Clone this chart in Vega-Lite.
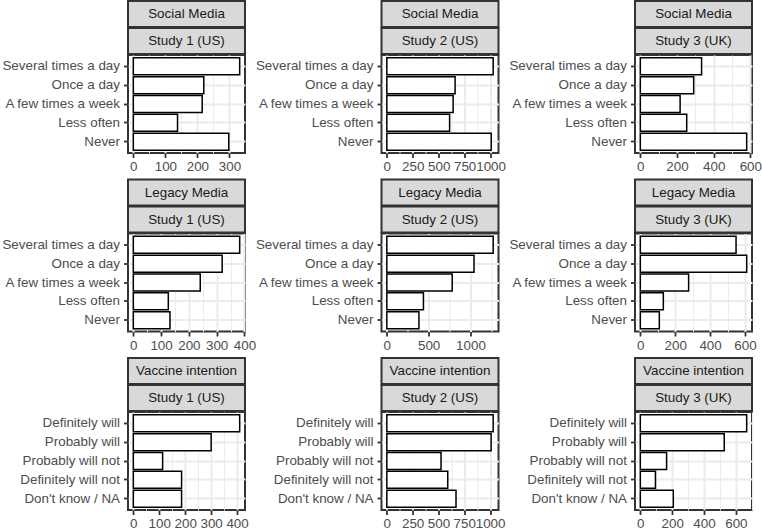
{
"$schema":"https://vega.github.io/schema/vega-lite/v6.json",
"background":"white",
"padding":{"left":0,"top":0,"right":0,"bottom":0},
"columns":3,
"align":"all",
"spacing":{"row":4.5,"column":-3.5},
"datasets":{"counts":[
{"category":"Social Media","study":"Study 1 (US)","response":"Several times a day","n":332},
{"category":"Social Media","study":"Study 1 (US)","response":"Once a day","n":220},
{"category":"Social Media","study":"Study 1 (US)","response":"A few times a week","n":215},
{"category":"Social Media","study":"Study 1 (US)","response":"Less often","n":138},
{"category":"Social Media","study":"Study 1 (US)","response":"Never","n":298},
{"category":"Social Media","study":"Study 2 (US)","response":"Several times a day","n":1025},
{"category":"Social Media","study":"Study 2 (US)","response":"Once a day","n":658},
{"category":"Social Media","study":"Study 2 (US)","response":"A few times a week","n":639},
{"category":"Social Media","study":"Study 2 (US)","response":"Less often","n":605},
{"category":"Social Media","study":"Study 2 (US)","response":"Never","n":1006},
{"category":"Social Media","study":"Study 3 (UK)","response":"Several times a day","n":334},
{"category":"Social Media","study":"Study 3 (UK)","response":"Once a day","n":291},
{"category":"Social Media","study":"Study 3 (UK)","response":"A few times a week","n":217},
{"category":"Social Media","study":"Study 3 (UK)","response":"Less often","n":253},
{"category":"Social Media","study":"Study 3 (UK)","response":"Never","n":580},
{"category":"Legacy Media","study":"Study 1 (US)","response":"Several times a day","n":383},
{"category":"Legacy Media","study":"Study 1 (US)","response":"Once a day","n":320},
{"category":"Legacy Media","study":"Study 1 (US)","response":"A few times a week","n":241},
{"category":"Legacy Media","study":"Study 1 (US)","response":"Less often","n":126},
{"category":"Legacy Media","study":"Study 1 (US)","response":"Never","n":132},
{"category":"Legacy Media","study":"Study 2 (US)","response":"Several times a day","n":1272},
{"category":"Legacy Media","study":"Study 2 (US)","response":"Once a day","n":1043},
{"category":"Legacy Media","study":"Study 2 (US)","response":"A few times a week","n":782},
{"category":"Legacy Media","study":"Study 2 (US)","response":"Less often","n":438},
{"category":"Legacy Media","study":"Study 2 (US)","response":"Never","n":384},
{"category":"Legacy Media","study":"Study 3 (UK)","response":"Several times a day","n":549},
{"category":"Legacy Media","study":"Study 3 (UK)","response":"Once a day","n":610},
{"category":"Legacy Media","study":"Study 3 (UK)","response":"A few times a week","n":277},
{"category":"Legacy Media","study":"Study 3 (UK)","response":"Less often","n":132},
{"category":"Legacy Media","study":"Study 3 (UK)","response":"Never","n":109},
{"category":"Vaccine intention","study":"Study 1 (US)","response":"Definitely will","n":410},
{"category":"Vaccine intention","study":"Study 1 (US)","response":"Probably will","n":300},
{"category":"Vaccine intention","study":"Study 1 (US)","response":"Probably will not","n":113},
{"category":"Vaccine intention","study":"Study 1 (US)","response":"Definitely will not","n":186},
{"category":"Vaccine intention","study":"Study 1 (US)","response":"Don't know / NA","n":186},
{"category":"Vaccine intention","study":"Study 2 (US)","response":"Definitely will","n":1030},
{"category":"Vaccine intention","study":"Study 2 (US)","response":"Probably will","n":1010},
{"category":"Vaccine intention","study":"Study 2 (US)","response":"Probably will not","n":525},
{"category":"Vaccine intention","study":"Study 2 (US)","response":"Definitely will not","n":590},
{"category":"Vaccine intention","study":"Study 2 (US)","response":"Don't know / NA","n":670},
{"category":"Vaccine intention","study":"Study 3 (UK)","response":"Definitely will","n":668},
{"category":"Vaccine intention","study":"Study 3 (UK)","response":"Probably will","n":527},
{"category":"Vaccine intention","study":"Study 3 (UK)","response":"Probably will not","n":165},
{"category":"Vaccine intention","study":"Study 3 (UK)","response":"Definitely will not","n":95},
{"category":"Vaccine intention","study":"Study 3 (UK)","response":"Don't know / NA","n":207}
]},
"concat":[
{"spacing":-2,"vconcat":[
 {"width":117,"height":26,"view":{"fill":"#d9d9d9","stroke":"#333333","strokeWidth":2},"data":{"values":[{"label":"Social Media"}]},"mark":{"type":"text","fontSize":13.4,"color":"#1a1a1a"},"encoding":{"text":{"field":"label"}}},
 {"width":117,"height":26,"view":{"fill":"#d9d9d9","stroke":"#333333","strokeWidth":2},"data":{"values":[{"label":"Study 1 (US)"}]},"mark":{"type":"text","fontSize":13.4,"color":"#1a1a1a"},"encoding":{"text":{"field":"label"}}},
 {"width":117,"height":98,"view":{"fill":"white","stroke":"#333333","strokeWidth":2},"data":{"name":"counts"},
  "transform":[{"filter":"datum.category==='Social Media' && datum.study==='Study 1 (US)'"}],
  "resolve":{"axis":{"x":"independent"}},
  "layer":[
   {"mark":{"type":"bar","opacity":0},"encoding":{
     "y":{"field":"response","type":"nominal","title":null,"sort":["Several times a day","Once a day","A few times a week","Less often","Never"],"scale":{"paddingInner":0.1,"paddingOuter":0.15},"axis":{"grid":true}},
     "x":{"field":"n","type":"quantitative","title":null,"scale":{"domain":[-16.6,348.6],"nice":false,"zero":false},"axis":{"orient":"bottom","values":[50,150,250],"labels":false,"ticks":false,"grid":true,"gridWidth":1}}}},
   {"mark":{"type":"bar","fill":"white","stroke":"black","strokeWidth":1.5},"encoding":{
     "y":{"field":"response","type":"nominal","title":null,"sort":["Several times a day","Once a day","A few times a week","Less often","Never"],"scale":{"paddingInner":0.1,"paddingOuter":0.15},"axis":{"grid":true}},
     "x":{"field":"n","type":"quantitative","title":null,"scale":{"domain":[-16.6,348.6],"nice":false,"zero":false},"axis":{"orient":"bottom","values":[0,100,200,300],"grid":true}},
     "x2":{"datum":0}}}
  ]}
]},
{"spacing":-2,"vconcat":[
 {"width":117,"height":26,"view":{"fill":"#d9d9d9","stroke":"#333333","strokeWidth":2},"data":{"values":[{"label":"Social Media"}]},"mark":{"type":"text","fontSize":13.4,"color":"#1a1a1a"},"encoding":{"text":{"field":"label"}}},
 {"width":117,"height":26,"view":{"fill":"#d9d9d9","stroke":"#333333","strokeWidth":2},"data":{"values":[{"label":"Study 2 (US)"}]},"mark":{"type":"text","fontSize":13.4,"color":"#1a1a1a"},"encoding":{"text":{"field":"label"}}},
 {"width":117,"height":98,"view":{"fill":"white","stroke":"#333333","strokeWidth":2},"data":{"name":"counts"},
  "transform":[{"filter":"datum.category==='Social Media' && datum.study==='Study 2 (US)'"}],
  "resolve":{"axis":{"x":"independent"}},
  "layer":[
   {"mark":{"type":"bar","opacity":0},"encoding":{
     "y":{"field":"response","type":"nominal","title":null,"sort":["Several times a day","Once a day","A few times a week","Less often","Never"],"scale":{"paddingInner":0.1,"paddingOuter":0.15},"axis":{"grid":true}},
     "x":{"field":"n","type":"quantitative","title":null,"scale":{"domain":[-51.25,1076.25],"nice":false,"zero":false},"axis":{"orient":"bottom","values":[125,375,625,875],"labels":false,"ticks":false,"grid":true,"gridWidth":1}}}},
   {"mark":{"type":"bar","fill":"white","stroke":"black","strokeWidth":1.5},"encoding":{
     "y":{"field":"response","type":"nominal","title":null,"sort":["Several times a day","Once a day","A few times a week","Less often","Never"],"scale":{"paddingInner":0.1,"paddingOuter":0.15},"axis":{"grid":true}},
     "x":{"field":"n","type":"quantitative","title":null,"scale":{"domain":[-51.25,1076.25],"nice":false,"zero":false},"axis":{"orient":"bottom","values":[0,250,500,750,1000],"grid":true}},
     "x2":{"datum":0}}}
  ]}
]},
{"spacing":-2,"vconcat":[
 {"width":117,"height":26,"view":{"fill":"#d9d9d9","stroke":"#333333","strokeWidth":2},"data":{"values":[{"label":"Social Media"}]},"mark":{"type":"text","fontSize":13.4,"color":"#1a1a1a"},"encoding":{"text":{"field":"label"}}},
 {"width":117,"height":26,"view":{"fill":"#d9d9d9","stroke":"#333333","strokeWidth":2},"data":{"values":[{"label":"Study 3 (UK)"}]},"mark":{"type":"text","fontSize":13.4,"color":"#1a1a1a"},"encoding":{"text":{"field":"label"}}},
 {"width":117,"height":98,"view":{"fill":"white","stroke":"#333333","strokeWidth":2},"data":{"name":"counts"},
  "transform":[{"filter":"datum.category==='Social Media' && datum.study==='Study 3 (UK)'"}],
  "resolve":{"axis":{"x":"independent"}},
  "layer":[
   {"mark":{"type":"bar","opacity":0},"encoding":{
     "y":{"field":"response","type":"nominal","title":null,"sort":["Several times a day","Once a day","A few times a week","Less often","Never"],"scale":{"paddingInner":0.1,"paddingOuter":0.15},"axis":{"grid":true}},
     "x":{"field":"n","type":"quantitative","title":null,"scale":{"domain":[-29,609],"nice":false,"zero":false},"axis":{"orient":"bottom","values":[100,300,500],"labels":false,"ticks":false,"grid":true,"gridWidth":1}}}},
   {"mark":{"type":"bar","fill":"white","stroke":"black","strokeWidth":1.5},"encoding":{
     "y":{"field":"response","type":"nominal","title":null,"sort":["Several times a day","Once a day","A few times a week","Less often","Never"],"scale":{"paddingInner":0.1,"paddingOuter":0.15},"axis":{"grid":true}},
     "x":{"field":"n","type":"quantitative","title":null,"scale":{"domain":[-29,609],"nice":false,"zero":false},"axis":{"orient":"bottom","values":[0,200,400,600],"grid":true}},
     "x2":{"datum":0}}}
  ]}
]},
{"spacing":-2,"vconcat":[
 {"width":117,"height":26,"view":{"fill":"#d9d9d9","stroke":"#333333","strokeWidth":2},"data":{"values":[{"label":"Legacy Media"}]},"mark":{"type":"text","fontSize":13.4,"color":"#1a1a1a"},"encoding":{"text":{"field":"label"}}},
 {"width":117,"height":26,"view":{"fill":"#d9d9d9","stroke":"#333333","strokeWidth":2},"data":{"values":[{"label":"Study 1 (US)"}]},"mark":{"type":"text","fontSize":13.4,"color":"#1a1a1a"},"encoding":{"text":{"field":"label"}}},
 {"width":117,"height":98,"view":{"fill":"white","stroke":"#333333","strokeWidth":2},"data":{"name":"counts"},
  "transform":[{"filter":"datum.category==='Legacy Media' && datum.study==='Study 1 (US)'"}],
  "resolve":{"axis":{"x":"independent"}},
  "layer":[
   {"mark":{"type":"bar","opacity":0},"encoding":{
     "y":{"field":"response","type":"nominal","title":null,"sort":["Several times a day","Once a day","A few times a week","Less often","Never"],"scale":{"paddingInner":0.1,"paddingOuter":0.15},"axis":{"grid":true}},
     "x":{"field":"n","type":"quantitative","title":null,"scale":{"domain":[-19.15,402.15],"nice":false,"zero":false},"axis":{"orient":"bottom","values":[50,150,250,350],"labels":false,"ticks":false,"grid":true,"gridWidth":1}}}},
   {"mark":{"type":"bar","fill":"white","stroke":"black","strokeWidth":1.5},"encoding":{
     "y":{"field":"response","type":"nominal","title":null,"sort":["Several times a day","Once a day","A few times a week","Less often","Never"],"scale":{"paddingInner":0.1,"paddingOuter":0.15},"axis":{"grid":true}},
     "x":{"field":"n","type":"quantitative","title":null,"scale":{"domain":[-19.15,402.15],"nice":false,"zero":false},"axis":{"orient":"bottom","values":[0,100,200,300,400],"grid":true}},
     "x2":{"datum":0}}}
  ]}
]},
{"spacing":-2,"vconcat":[
 {"width":117,"height":26,"view":{"fill":"#d9d9d9","stroke":"#333333","strokeWidth":2},"data":{"values":[{"label":"Legacy Media"}]},"mark":{"type":"text","fontSize":13.4,"color":"#1a1a1a"},"encoding":{"text":{"field":"label"}}},
 {"width":117,"height":26,"view":{"fill":"#d9d9d9","stroke":"#333333","strokeWidth":2},"data":{"values":[{"label":"Study 2 (US)"}]},"mark":{"type":"text","fontSize":13.4,"color":"#1a1a1a"},"encoding":{"text":{"field":"label"}}},
 {"width":117,"height":98,"view":{"fill":"white","stroke":"#333333","strokeWidth":2},"data":{"name":"counts"},
  "transform":[{"filter":"datum.category==='Legacy Media' && datum.study==='Study 2 (US)'"}],
  "resolve":{"axis":{"x":"independent"}},
  "layer":[
   {"mark":{"type":"bar","opacity":0},"encoding":{
     "y":{"field":"response","type":"nominal","title":null,"sort":["Several times a day","Once a day","A few times a week","Less often","Never"],"scale":{"paddingInner":0.1,"paddingOuter":0.15},"axis":{"grid":true}},
     "x":{"field":"n","type":"quantitative","title":null,"scale":{"domain":[-63.6,1335.6],"nice":false,"zero":false},"axis":{"orient":"bottom","values":[250,750,1250],"labels":false,"ticks":false,"grid":true,"gridWidth":1}}}},
   {"mark":{"type":"bar","fill":"white","stroke":"black","strokeWidth":1.5},"encoding":{
     "y":{"field":"response","type":"nominal","title":null,"sort":["Several times a day","Once a day","A few times a week","Less often","Never"],"scale":{"paddingInner":0.1,"paddingOuter":0.15},"axis":{"grid":true}},
     "x":{"field":"n","type":"quantitative","title":null,"scale":{"domain":[-63.6,1335.6],"nice":false,"zero":false},"axis":{"orient":"bottom","values":[0,500,1000],"grid":true}},
     "x2":{"datum":0}}}
  ]}
]},
{"spacing":-2,"vconcat":[
 {"width":117,"height":26,"view":{"fill":"#d9d9d9","stroke":"#333333","strokeWidth":2},"data":{"values":[{"label":"Legacy Media"}]},"mark":{"type":"text","fontSize":13.4,"color":"#1a1a1a"},"encoding":{"text":{"field":"label"}}},
 {"width":117,"height":26,"view":{"fill":"#d9d9d9","stroke":"#333333","strokeWidth":2},"data":{"values":[{"label":"Study 3 (UK)"}]},"mark":{"type":"text","fontSize":13.4,"color":"#1a1a1a"},"encoding":{"text":{"field":"label"}}},
 {"width":117,"height":98,"view":{"fill":"white","stroke":"#333333","strokeWidth":2},"data":{"name":"counts"},
  "transform":[{"filter":"datum.category==='Legacy Media' && datum.study==='Study 3 (UK)'"}],
  "resolve":{"axis":{"x":"independent"}},
  "layer":[
   {"mark":{"type":"bar","opacity":0},"encoding":{
     "y":{"field":"response","type":"nominal","title":null,"sort":["Several times a day","Once a day","A few times a week","Less often","Never"],"scale":{"paddingInner":0.1,"paddingOuter":0.15},"axis":{"grid":true}},
     "x":{"field":"n","type":"quantitative","title":null,"scale":{"domain":[-30.5,640.5],"nice":false,"zero":false},"axis":{"orient":"bottom","values":[100,300,500],"labels":false,"ticks":false,"grid":true,"gridWidth":1}}}},
   {"mark":{"type":"bar","fill":"white","stroke":"black","strokeWidth":1.5},"encoding":{
     "y":{"field":"response","type":"nominal","title":null,"sort":["Several times a day","Once a day","A few times a week","Less often","Never"],"scale":{"paddingInner":0.1,"paddingOuter":0.15},"axis":{"grid":true}},
     "x":{"field":"n","type":"quantitative","title":null,"scale":{"domain":[-30.5,640.5],"nice":false,"zero":false},"axis":{"orient":"bottom","values":[0,200,400,600],"grid":true}},
     "x2":{"datum":0}}}
  ]}
]},
{"spacing":-2,"vconcat":[
 {"width":117,"height":26,"view":{"fill":"#d9d9d9","stroke":"#333333","strokeWidth":2},"data":{"values":[{"label":"Vaccine intention"}]},"mark":{"type":"text","fontSize":13.4,"color":"#1a1a1a"},"encoding":{"text":{"field":"label"}}},
 {"width":117,"height":26,"view":{"fill":"#d9d9d9","stroke":"#333333","strokeWidth":2},"data":{"values":[{"label":"Study 1 (US)"}]},"mark":{"type":"text","fontSize":13.4,"color":"#1a1a1a"},"encoding":{"text":{"field":"label"}}},
 {"width":117,"height":98,"view":{"fill":"white","stroke":"#333333","strokeWidth":2},"data":{"name":"counts"},
  "transform":[{"filter":"datum.category==='Vaccine intention' && datum.study==='Study 1 (US)'"}],
  "resolve":{"axis":{"x":"independent"}},
  "layer":[
   {"mark":{"type":"bar","opacity":0},"encoding":{
     "y":{"field":"response","type":"nominal","title":null,"sort":["Definitely will","Probably will","Probably will not","Definitely will not","Don't know / NA"],"scale":{"paddingInner":0.1,"paddingOuter":0.15},"axis":{"grid":true}},
     "x":{"field":"n","type":"quantitative","title":null,"scale":{"domain":[-20.5,430.5],"nice":false,"zero":false},"axis":{"orient":"bottom","values":[50,150,250,350],"labels":false,"ticks":false,"grid":true,"gridWidth":1}}}},
   {"mark":{"type":"bar","fill":"white","stroke":"black","strokeWidth":1.5},"encoding":{
     "y":{"field":"response","type":"nominal","title":null,"sort":["Definitely will","Probably will","Probably will not","Definitely will not","Don't know / NA"],"scale":{"paddingInner":0.1,"paddingOuter":0.15},"axis":{"grid":true}},
     "x":{"field":"n","type":"quantitative","title":null,"scale":{"domain":[-20.5,430.5],"nice":false,"zero":false},"axis":{"orient":"bottom","values":[0,100,200,300,400],"grid":true}},
     "x2":{"datum":0}}}
  ]}
]},
{"spacing":-2,"vconcat":[
 {"width":117,"height":26,"view":{"fill":"#d9d9d9","stroke":"#333333","strokeWidth":2},"data":{"values":[{"label":"Vaccine intention"}]},"mark":{"type":"text","fontSize":13.4,"color":"#1a1a1a"},"encoding":{"text":{"field":"label"}}},
 {"width":117,"height":26,"view":{"fill":"#d9d9d9","stroke":"#333333","strokeWidth":2},"data":{"values":[{"label":"Study 2 (US)"}]},"mark":{"type":"text","fontSize":13.4,"color":"#1a1a1a"},"encoding":{"text":{"field":"label"}}},
 {"width":117,"height":98,"view":{"fill":"white","stroke":"#333333","strokeWidth":2},"data":{"name":"counts"},
  "transform":[{"filter":"datum.category==='Vaccine intention' && datum.study==='Study 2 (US)'"}],
  "resolve":{"axis":{"x":"independent"}},
  "layer":[
   {"mark":{"type":"bar","opacity":0},"encoding":{
     "y":{"field":"response","type":"nominal","title":null,"sort":["Definitely will","Probably will","Probably will not","Definitely will not","Don't know / NA"],"scale":{"paddingInner":0.1,"paddingOuter":0.15},"axis":{"grid":true}},
     "x":{"field":"n","type":"quantitative","title":null,"scale":{"domain":[-51.5,1081.5],"nice":false,"zero":false},"axis":{"orient":"bottom","values":[125,375,625,875],"labels":false,"ticks":false,"grid":true,"gridWidth":1}}}},
   {"mark":{"type":"bar","fill":"white","stroke":"black","strokeWidth":1.5},"encoding":{
     "y":{"field":"response","type":"nominal","title":null,"sort":["Definitely will","Probably will","Probably will not","Definitely will not","Don't know / NA"],"scale":{"paddingInner":0.1,"paddingOuter":0.15},"axis":{"grid":true}},
     "x":{"field":"n","type":"quantitative","title":null,"scale":{"domain":[-51.5,1081.5],"nice":false,"zero":false},"axis":{"orient":"bottom","values":[0,250,500,750,1000],"grid":true}},
     "x2":{"datum":0}}}
  ]}
]},
{"spacing":-2,"vconcat":[
 {"width":117,"height":26,"view":{"fill":"#d9d9d9","stroke":"#333333","strokeWidth":2},"data":{"values":[{"label":"Vaccine intention"}]},"mark":{"type":"text","fontSize":13.4,"color":"#1a1a1a"},"encoding":{"text":{"field":"label"}}},
 {"width":117,"height":26,"view":{"fill":"#d9d9d9","stroke":"#333333","strokeWidth":2},"data":{"values":[{"label":"Study 3 (UK)"}]},"mark":{"type":"text","fontSize":13.4,"color":"#1a1a1a"},"encoding":{"text":{"field":"label"}}},
 {"width":117,"height":98,"view":{"fill":"white","stroke":"#333333","strokeWidth":2},"data":{"name":"counts"},
  "transform":[{"filter":"datum.category==='Vaccine intention' && datum.study==='Study 3 (UK)'"}],
  "resolve":{"axis":{"x":"independent"}},
  "layer":[
   {"mark":{"type":"bar","opacity":0},"encoding":{
     "y":{"field":"response","type":"nominal","title":null,"sort":["Definitely will","Probably will","Probably will not","Definitely will not","Don't know / NA"],"scale":{"paddingInner":0.1,"paddingOuter":0.15},"axis":{"grid":true}},
     "x":{"field":"n","type":"quantitative","title":null,"scale":{"domain":[-33.4,701.4],"nice":false,"zero":false},"axis":{"orient":"bottom","values":[100,300,500,700],"labels":false,"ticks":false,"grid":true,"gridWidth":1}}}},
   {"mark":{"type":"bar","fill":"white","stroke":"black","strokeWidth":1.5},"encoding":{
     "y":{"field":"response","type":"nominal","title":null,"sort":["Definitely will","Probably will","Probably will not","Definitely will not","Don't know / NA"],"scale":{"paddingInner":0.1,"paddingOuter":0.15},"axis":{"grid":true}},
     "x":{"field":"n","type":"quantitative","title":null,"scale":{"domain":[-33.4,701.4],"nice":false,"zero":false},"axis":{"orient":"bottom","values":[0,200,400,600],"grid":true}},
     "x2":{"datum":0}}}
  ]}
]}
],
"config":{
 "font":"Liberation Sans",
 "numberFormat":"d",
 "view":{"stroke":null},
 "axis":{"labelFont":"Liberation Sans","labelFontSize":13.4,"labelColor":"#4d4d4d","tickColor":"#333333","tickWidth":1.8,"tickSize":4.5,"domain":false,"gridColor":"#ebebeb","gridWidth":2,"labelOverlap":false,"labelFlush":false},
 "axisX":{"labelPadding":2},
 "axisY":{"labelPadding":4}
}
}
